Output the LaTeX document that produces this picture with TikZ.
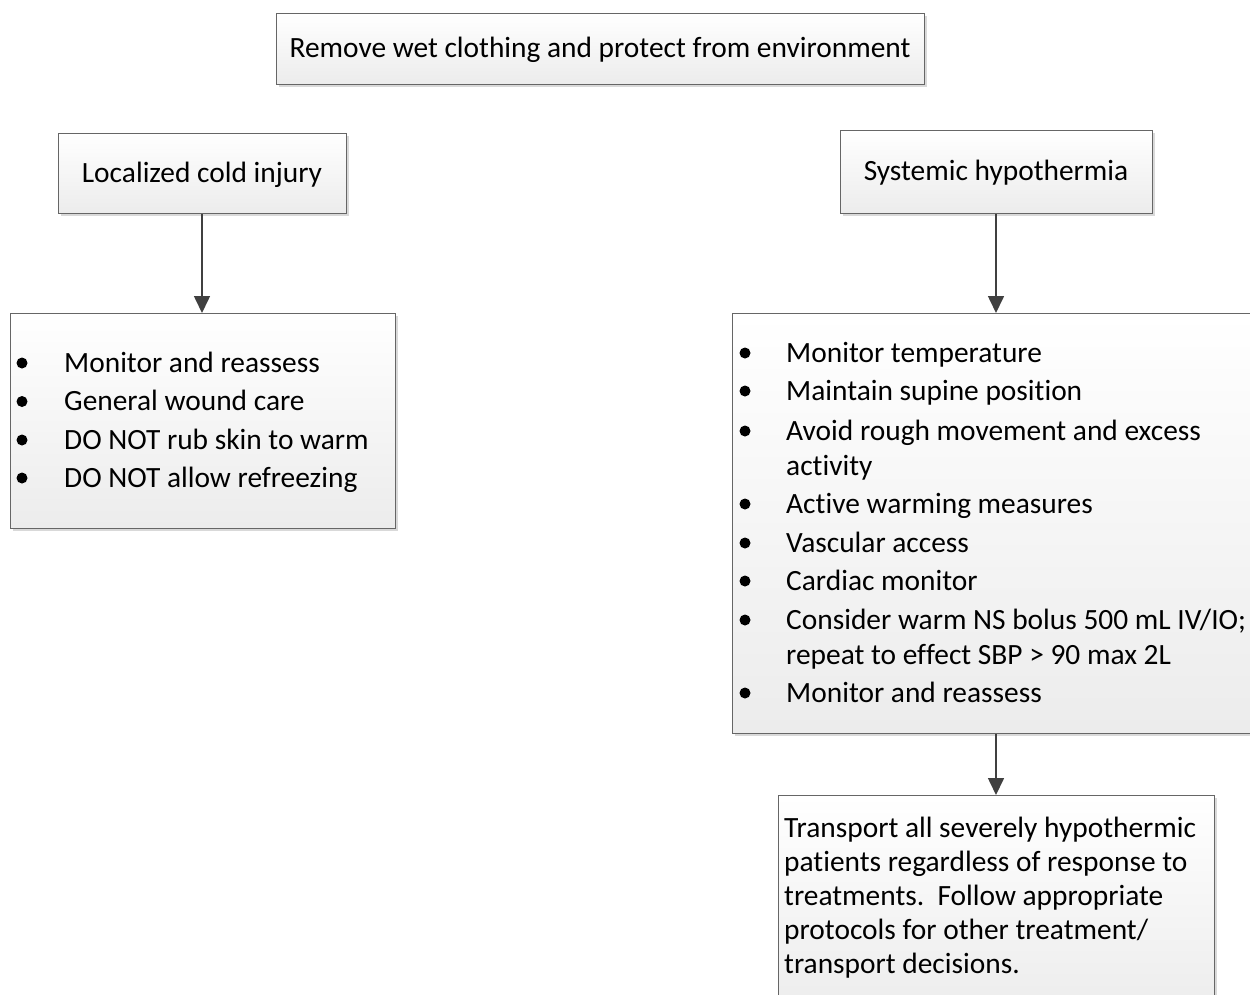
\documentclass[tikz,border=0pt]{standalone}
\usepackage{fontspec}
\setmainfont{Carlito}[RawFeature={-liga;-clig;-dlig;-calt}]
\newcommand{\nlg}{\kern0pt{}}
\usetikzlibrary{shadows,arrows.meta}
\begin{document}
\begin{tikzpicture}[x=1pt,y=-1pt,
  font=\fontsize{29.4}{34}\selectfont,
  box/.style={draw=gray!80!black, line width=0.9pt, top color=white, bottom color=gray!15,
    drop shadow={shadow xshift=3pt,shadow yshift=-3pt,fill=gray!30,opacity=1},
    anchor=north west, inner sep=0pt},
  lbl/.style={anchor=base, inner sep=0pt},
  item/.style={anchor=base west, inner sep=0pt},
  bul/.style={circle, fill=black, minimum size=11pt, inner sep=0pt},
  arr/.style={draw=black!75, line width=1.6pt, -{Triangle[length=17pt,width=16pt]}}]
\useasboundingbox (0,0) rectangle (1250,994);

\node[box, minimum width=648pt, minimum height=71pt] (top) at (276,13) {};
\node[box, minimum width=288pt, minimum height=80pt] (loc) at (58,133) {};
\node[box, minimum width=312pt, minimum height=83pt] (sys) at (840,130) {};
\node[box, minimum width=385pt, minimum height=215pt] (llist) at (10,313) {};
\node[box, minimum width=530pt, minimum height=420pt] (rlist) at (732,313) {};
\node[box, minimum width=436pt, minimum height=220pt] (trans) at (778,795) {};

\node[lbl] (toptxt) at (600,57) {Remove wet clothing and protect from environment};
\node[lbl] (loctxt) at (202,182) {Localized cold injury};
\node[lbl] (systxt) at (996,180) {Systemic hypothermia};

% left list
\node[bul] (lb1) at (22,363) {};
\node[bul] (lb2) at (22,401.5) {};
\node[bul] (lb3) at (22,440) {};
\node[bul] (lb4) at (22,478) {};
\node[item] (lt1) at (64,372) {Monitor and reassess};
\node[item] (lt2) at (64,410.5) {General wound care};
\node[item] (lt3) at (64,449) {DO NOT rub skin to warm};
\node[item] (lt4) at (64,487) {DO NOT allow refreezing};

% right list
\node[bul] (rb1) at (745,353) {};
\node[bul] (rb2) at (745,391) {};
\node[bul] (rb3) at (745,431) {};
\node[bul] (rb4) at (745,504) {};
\node[bul] (rb5) at (745,543) {};
\node[bul] (rb6) at (745,581) {};
\node[bul] (rb7) at (745,620) {};
\node[bul] (rb8) at (745,693) {};
\node[item] (rt1) at (786,362) {Monitor temperature};
\node[item] (rt2) at (786,400) {Maintain supine posit\nlg ion};
\node[item] (rt3) at (786,440) {Avoid rough movement and excess};
\node[item] (rt3b) at (786,475) {activ\nlg ity};
\node[item] (rt4) at (786,513) {Act\nlg ive warming measures};
\node[item] (rt5) at (786,552) {Vascular access};
\node[item] (rt6) at (786,590) {Cardiac monitor};
\node[item] (rt7) at (786,629) {Consider warm NS bolus 500 mL IV/IO;};
\node[item] (rt7b) at (786,664) {repeat to ef\nlg fect SBP > 90 max 2L};
\node[item] (rt8) at (786,702) {Monitor and reassess};

% transport text
\node[item] (tt1) at (784,837) {Transport all severely hypothermic};
\node[item] (tt2) at (784,871) {pat\nlg ients regardless of response to};
\node[item] (tt3) at (784,905) {treatments.\ \ Follow appropriate};
\node[item] (tt4) at (784,939) {protocols for other treatment/};
\node[item] (tt5) at (784,973) {transport decisions.};

% arrows
\draw[arr] (loc.south -| 202,0) -- (llist.north -| 202,0);
\draw[arr] (sys.south -| 996,0) -- (rlist.north -| 996,0);
\draw[arr] (rlist.south -| 996,0) -- (trans.north -| 996,0);
\end{tikzpicture}
\end{document}
